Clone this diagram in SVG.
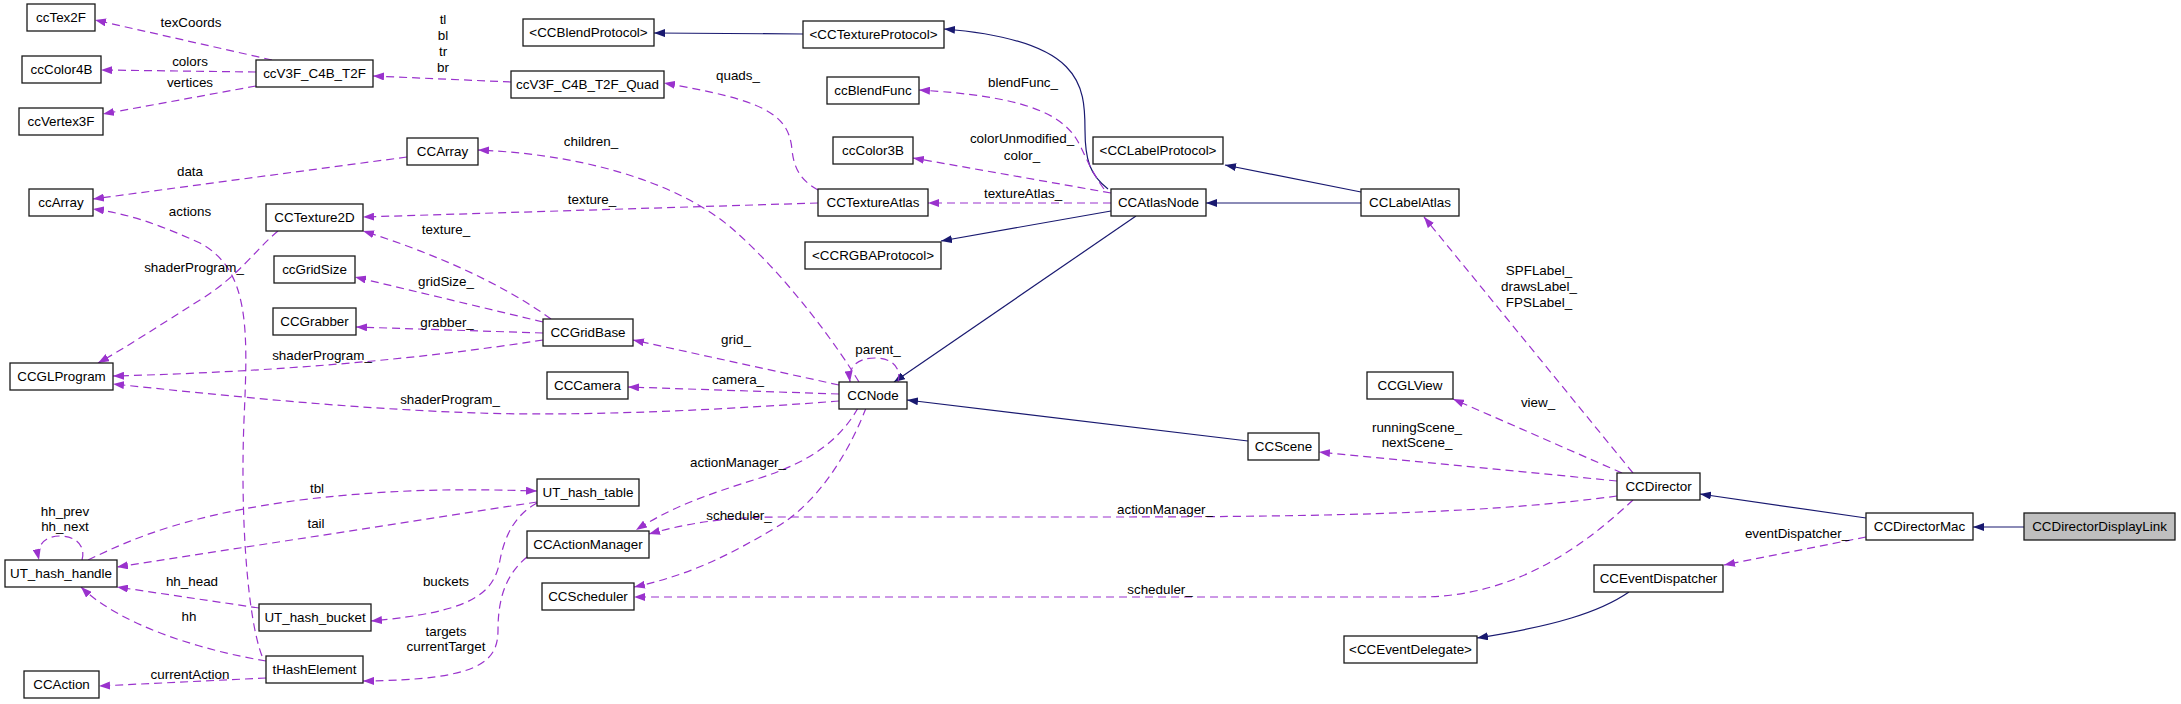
<svg xmlns="http://www.w3.org/2000/svg" width="2181" height="704" viewBox="0 0 2181 704">
<style>
.n rect{fill:#fff;stroke:#1a1a1a;stroke-width:1.3}
.n text,.l{font-family:"Liberation Sans",Arial,sans-serif;font-size:13.4px;fill:#000;text-anchor:middle}
.i{fill:none;stroke:#191970;stroke-width:1.2;marker-end:url(#ab)}
.u{fill:none;stroke:#9a32cd;stroke-width:1.2;stroke-dasharray:8,5;marker-end:url(#ap)}
</style>
<defs>
<marker id="ab" viewBox="0 0 11 8" refX="11" refY="4" markerWidth="11" markerHeight="8" markerUnits="userSpaceOnUse" orient="auto"><path d="M0,0 L11,4 L0,8 z" fill="#191970"/></marker>
<marker id="ap" viewBox="0 0 11 8" refX="11" refY="4" markerWidth="11" markerHeight="8" markerUnits="userSpaceOnUse" orient="auto"><path d="M0,0 L11,4 L0,8 z" fill="#9a32cd"/></marker>
</defs>
<rect width="2181" height="704" fill="#fff"/>
<g id="edges">
<path class="i" d="M2024,527 L1973,527"/>
<path class="i" d="M1866,518 L1700,494"/>
<path class="i" d="M1248,441 L907,400"/>
<path class="i" d="M1136,216 L894,382"/>
<path class="i" d="M1111,211 L941,241"/>
<path class="i" d="M1108,189 C1090,175 1085,160 1085,130 C1085,85 1082,40 944,29"/>
<path class="i" d="M803,34 L654,33"/>
<path class="i" d="M1361,203 L1206,203"/>
<path class="i" d="M1361,192 L1225,165"/>
<path class="i" d="M1629,592 C1600,612 1555,626 1477,638"/>
<path class="u" d="M272,60 L95,20"/>
<path class="u" d="M256,72 L101,70"/>
<path class="u" d="M256,86 L103,114"/>
<path class="u" d="M511,82 L373,76"/>
<path class="u" d="M818,190 C800,180 794,168 792,150 C789,112 760,100 664,83"/>
<path class="u" d="M1104,189 C1090,170 1084,152 1077,140 C1060,112 1020,96 919,90"/>
<path class="u" d="M1111,193 L913,158"/>
<path class="u" d="M1111,203 L928,203"/>
<path class="u" d="M818,203 L363,217"/>
<path class="u" d="M859,382 C840,350 790,280 736,232 C690,190 600,155 478,150"/>
<path class="u" d="M839,385 L633,340"/>
<path class="u" d="M839,394 L628,387"/>
<path class="u" d="M839,401 C700,412 560,416 480,413 C350,409 220,395 113,384"/>
<path class="u" d="M898,382 C902,368 892,358 875,358 C858,358 848,366 850,382"/>
<path class="u" d="M858,408 C840,440 810,462 760,478 C705,495 670,508 636,530"/>
<path class="u" d="M866,408 C850,450 820,500 780,525 C730,555 690,575 634,587"/>
<path class="u" d="M551,319 C500,282 430,252 363,231"/>
<path class="u" d="M543,322 L355,277"/>
<path class="u" d="M543,333 L356,327"/>
<path class="u" d="M543,340 Q350,370 113,376"/>
<path class="u" d="M278,231 C255,250 240,275 200,300 C160,325 130,345 98,363"/>
<path class="u" d="M262,656 C248,620 240,520 244,420 C248,330 250,270 200,243 C160,225 130,214 93,209"/>
<path class="u" d="M407,157 L93,199"/>
<path class="u" d="M88,560 C140,535 190,515 300,500 C400,488 470,489 537,491"/>
<path class="u" d="M537,502 L117,567"/>
<path class="u" d="M82,560 C86,546 76,536 60,536 C44,536 36,546 39,560"/>
<path class="u" d="M259,608 L117,587"/>
<path class="u" d="M266,661 C200,650 120,625 81,587"/>
<path class="u" d="M266,678 L99,686"/>
<path class="u" d="M527,557 C505,575 498,600 498,630 C498,662 480,680 363,681"/>
<path class="u" d="M537,503 C515,515 505,535 500,560 C494,595 470,612 371,621"/>
<path class="u" d="M1633,473 L1424,217"/>
<path class="u" d="M1622,473 L1453,399"/>
<path class="u" d="M1617,481 L1319,452"/>
<path class="u" d="M1617,496 C1500,512 1350,517 1100,517 L780,517 C720,517 680,525 649,534"/>
<path class="u" d="M1633,500 C1590,540 1520,597 1420,597 L634,597"/>
<path class="u" d="M1866,537 L1724,565"/>
<text class="l" x="191" y="27">texCoords</text>
<text class="l" x="190" y="66">colors</text>
<text class="l" x="190" y="87">vertices</text>
<text class="l" x="443" y="24">tl</text>
<text class="l" x="443" y="40">bl</text>
<text class="l" x="443" y="56">tr</text>
<text class="l" x="443" y="72">br</text>
<text class="l" x="738" y="80">quads_</text>
<text class="l" x="1023" y="87">blendFunc_</text>
<text class="l" x="1022" y="143">colorUnmodified_</text>
<text class="l" x="1022" y="160">color_</text>
<text class="l" x="1023" y="198">textureAtlas_</text>
<text class="l" x="592" y="204">texture_</text>
<text class="l" x="591" y="146">children_</text>
<text class="l" x="736" y="344">grid_</text>
<text class="l" x="738" y="384">camera_</text>
<text class="l" x="450" y="404">shaderProgram_</text>
<text class="l" x="878" y="354">parent_</text>
<text class="l" x="738" y="467">actionManager_</text>
<text class="l" x="739" y="520">scheduler_</text>
<text class="l" x="446" y="234">texture_</text>
<text class="l" x="446" y="286">gridSize_</text>
<text class="l" x="447" y="327">grabber_</text>
<text class="l" x="322" y="360">shaderProgram_</text>
<text class="l" x="194" y="272">shaderProgram_</text>
<text class="l" x="190" y="216">actions</text>
<text class="l" x="190" y="176">data</text>
<text class="l" x="317" y="493">tbl</text>
<text class="l" x="316" y="528">tail</text>
<text class="l" x="65" y="516">hh_prev</text>
<text class="l" x="65" y="531">hh_next</text>
<text class="l" x="192" y="586">hh_head</text>
<text class="l" x="189" y="621">hh</text>
<text class="l" x="190" y="679">currentAction</text>
<text class="l" x="446" y="636">targets</text>
<text class="l" x="446" y="651">currentTarget</text>
<text class="l" x="446" y="586">buckets</text>
<text class="l" x="1539" y="275">SPFLabel_</text>
<text class="l" x="1539" y="291">drawsLabel_</text>
<text class="l" x="1539" y="307">FPSLabel_</text>
<text class="l" x="1538" y="407">view_</text>
<text class="l" x="1417" y="432">runningScene_</text>
<text class="l" x="1417" y="447">nextScene_</text>
<text class="l" x="1165" y="514">actionManager_</text>
<text class="l" x="1160" y="594">scheduler_</text>
<text class="l" x="1797" y="538">eventDispatcher_</text>
</g>
<g id="ccTex2F" class="n"><rect x="27" y="4" width="68" height="27"/><text x="61" y="22">ccTex2F</text></g>
<g id="ccColor4B" class="n"><rect x="22" y="56" width="79" height="27"/><text x="61.5" y="74">ccColor4B</text></g>
<g id="ccVertex3F" class="n"><rect x="19" y="108" width="84" height="27"/><text x="61" y="126">ccVertex3F</text></g>
<g id="ccV3F_C4B_T2F" class="n"><rect x="256" y="60" width="117" height="27"/><text x="314.5" y="78">ccV3F_C4B_T2F</text></g>
<g id="ccV3F_C4B_T2F_Quad" class="n"><rect x="511" y="71" width="153" height="27"/><text x="587.5" y="89">ccV3F_C4B_T2F_Quad</text></g>
<g id="CCBlendProtocol" class="n"><rect x="523" y="19" width="131" height="27"/><text x="588.5" y="37">&lt;CCBlendProtocol&gt;</text></g>
<g id="CCTextureProtocol" class="n"><rect x="803" y="21" width="141" height="27"/><text x="873.5" y="39">&lt;CCTextureProtocol&gt;</text></g>
<g id="ccBlendFunc" class="n"><rect x="827" y="77" width="92" height="27"/><text x="873" y="95">ccBlendFunc</text></g>
<g id="ccColor3B" class="n"><rect x="833" y="137" width="80" height="27"/><text x="873" y="155">ccColor3B</text></g>
<g id="CCArray" class="n"><rect x="407" y="138" width="71" height="27"/><text x="442.5" y="156">CCArray</text></g>
<g id="ccArray" class="n"><rect x="29" y="189" width="64" height="27"/><text x="61" y="207">ccArray</text></g>
<g id="CCTexture2D" class="n"><rect x="266" y="204" width="97" height="27"/><text x="314.5" y="222">CCTexture2D</text></g>
<g id="CCTextureAtlas" class="n"><rect x="818" y="189" width="110" height="27"/><text x="873" y="207">CCTextureAtlas</text></g>
<g id="CCLabelProtocol" class="n"><rect x="1093" y="137" width="130" height="27"/><text x="1158" y="155">&lt;CCLabelProtocol&gt;</text></g>
<g id="CCAtlasNode" class="n"><rect x="1111" y="189" width="95" height="27"/><text x="1158.5" y="207">CCAtlasNode</text></g>
<g id="CCLabelAtlas" class="n"><rect x="1361" y="189" width="98" height="27"/><text x="1410" y="207">CCLabelAtlas</text></g>
<g id="ccGridSize" class="n"><rect x="274" y="256" width="81" height="27"/><text x="314.5" y="274">ccGridSize</text></g>
<g id="CCGrabber" class="n"><rect x="273" y="308" width="83" height="27"/><text x="314.5" y="326">CCGrabber</text></g>
<g id="CCGLProgram" class="n"><rect x="10" y="363" width="103" height="27"/><text x="61.5" y="381">CCGLProgram</text></g>
<g id="CCGridBase" class="n"><rect x="543" y="319" width="90" height="27"/><text x="588" y="337">CCGridBase</text></g>
<g id="CCRGBAProtocol" class="n"><rect x="805" y="242" width="136" height="27"/><text x="873" y="260">&lt;CCRGBAProtocol&gt;</text></g>
<g id="CCCamera" class="n"><rect x="547" y="372" width="81" height="27"/><text x="587.5" y="390">CCCamera</text></g>
<g id="CCNode" class="n"><rect x="839" y="382" width="68" height="27"/><text x="873" y="400">CCNode</text></g>
<g id="CCGLView" class="n"><rect x="1367" y="372" width="86" height="27"/><text x="1410" y="390">CCGLView</text></g>
<g id="CCScene" class="n"><rect x="1248" y="433" width="71" height="27"/><text x="1283.5" y="451">CCScene</text></g>
<g id="UT_hash_handle" class="n"><rect x="5" y="560" width="112" height="27"/><text x="61" y="578">UT_hash_handle</text></g>
<g id="UT_hash_table" class="n"><rect x="537" y="479" width="102" height="27"/><text x="588" y="497">UT_hash_table</text></g>
<g id="CCActionManager" class="n"><rect x="527" y="531" width="122" height="27"/><text x="588" y="549">CCActionManager</text></g>
<g id="CCScheduler" class="n"><rect x="542" y="583" width="92" height="27"/><text x="588" y="601">CCScheduler</text></g>
<g id="UT_hash_bucket" class="n"><rect x="259" y="604" width="112" height="27"/><text x="315" y="622">UT_hash_bucket</text></g>
<g id="tHashElement" class="n"><rect x="266" y="656" width="97" height="27"/><text x="314.5" y="674">tHashElement</text></g>
<g id="CCAction" class="n"><rect x="24" y="671" width="75" height="27"/><text x="61.5" y="689">CCAction</text></g>
<g id="CCDirector" class="n"><rect x="1617" y="473" width="83" height="27"/><text x="1658.5" y="491">CCDirector</text></g>
<g id="CCEventDispatcher" class="n"><rect x="1594" y="565" width="129" height="27"/><text x="1658.5" y="583">CCEventDispatcher</text></g>
<g id="CCEventDelegate" class="n"><rect x="1344" y="636" width="133" height="27"/><text x="1410.5" y="654">&lt;CCEventDelegate&gt;</text></g>
<g id="CCDirectorMac" class="n"><rect x="1866" y="513" width="107" height="27"/><text x="1919.5" y="531">CCDirectorMac</text></g>
<g id="CCDirectorDisplayLink" class="n"><rect x="2024" y="513" width="151" height="27" style="fill:#bfbfbf"/><text x="2099.5" y="531">CCDirectorDisplayLink</text></g>
</svg>
